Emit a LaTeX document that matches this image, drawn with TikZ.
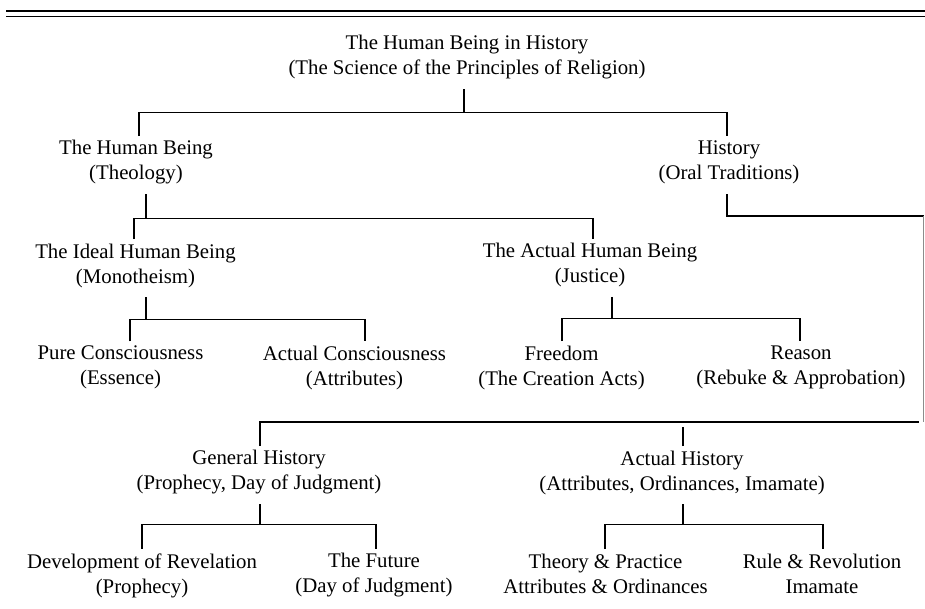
\documentclass[tikz,border=0pt]{standalone}
\usepackage{fontspec}
\setmainfont{Liberation Serif}
\usepackage{tikz}

\begin{document}
\begin{tikzpicture}[x=1pt, y=-1pt, font=\fontsize{20.8}{25}\selectfont, line width=1.1pt, item/.style = {align=center, inner sep=0pt, outer sep=0pt}, trunk/.style = {}, branch/.style = {shorten <=4.5pt, shorten >=4.5pt}, faint/.style = {black!45, line width=0.9pt}, rule/.style = {line width=1.3pt}]
                \useasboundingbox (0,0) rectangle (925,609);
                \draw[rule] (6,11) -- (925,11);
                \draw[rule] (6,16.5) -- (925,16.5);
                \node[item] (root) at (467,57.5) {The Human Being in History\\(The Science of the Principles of Religion)};
                \node[item] (hb) at (136,162.5) {The Human Being\\(Theology)};
                \node[item] (hist) at (729,162.5) {History\\(Oral Traditions)};
                \node[item] (ideal) at (135.5,265.5) {The Ideal Human Being\\(Monotheism)};
                \node[item] (actual) at (590,265) {The Actual Human Being\\(Justice)};
                \node[item] (pure) at (120.5,367.5) {Pure Consciousness\\(Essence)};
                \node[item] (acons) at (354.5,367.5) {Actual Consciousness\\(Attributes)};
                \node[item] (free) at (561.5,367.5) {Freedom\\(The Creation Acts)};
                \node[item] (reason) at (801,367.5) {Reason\\(Rebuke \& Approbation)};
                \node[item] (genhist) at (259,472.5) {General History\\(Prophecy, Day of Judgment)};
                \node[item] (acthist) at (682,472.5) {Actual History\\(Attributes, Ordinances, Imamate)};
                \node[item] (devrev) at (142,575.5) {Development of Revelation\\(Prophecy)};
                \node[item] (future) at (374,575.5) {The Future\\(Day of Judgment)};
                \node[item] (theory) at (605.5,573.5) {Theory \& Practice\\Attributes \& Ordinances};
                \node[item] (rule) at (822,573.5) {Rule \& Revolution\\Imamate};
                \coordinate (redge) at (923.5,216);
                \draw[trunk] ([xshift=-3pt, yshift=-10pt]root.south) -- ++(0,23) coordinate (b0);
                \draw[branch] ([xshift=3pt]hb.north) |- (b0) -| ([xshift=-2pt]hist.north);
                \draw[trunk] ([xshift=10pt, yshift=-10pt]hb.south) -- ++(0,24) coordinate (b1);
                \draw[branch] ([xshift=-1.5pt]ideal.north) |- (b1) -| ([xshift=3pt]actual.north);
                \draw[trunk] ([xshift=-2pt, yshift=-10pt]hist.south) |- (redge);
                \draw[faint] (redge) -- ++(0,206) coordinate (b3);
                \draw[branch] ([xshift=1pt]genhist.north) |- (b3);
                \draw[branch] ([xshift=1pt]acthist.north) -- ([xshift=1pt]acthist.north |- b3);
                \draw[trunk] ([xshift=10.5pt, yshift=-10pt]ideal.south) -- ++(0,22) coordinate (b4);
                \draw[branch] ([xshift=9.5pt]pure.north) |- (b4) -| ([xshift=10.5pt]acons.north);
                \draw[trunk] ([xshift=22pt, yshift=-10pt]actual.south) -- ++(0,22) coordinate (b5);
                \draw[branch] ([xshift=0.5pt]free.north) |- (b5) -| ([xshift=-1pt]reason.north);
                \draw[trunk] ([xshift=1pt, yshift=-10pt]genhist.south) -- ++(0,20) coordinate (b6);
                \draw[branch] (devrev.north) |- (b6) -| ([xshift=2pt]future.north);
                \draw[trunk] ([xshift=1pt, yshift=-10pt]acthist.south) -- ++(0,20) coordinate (b7);
                \draw[branch] ([xshift=-0.5pt]theory.north) |- (b7) -| ([xshift=1pt]rule.north);
            \end{tikzpicture}
\end{document}
